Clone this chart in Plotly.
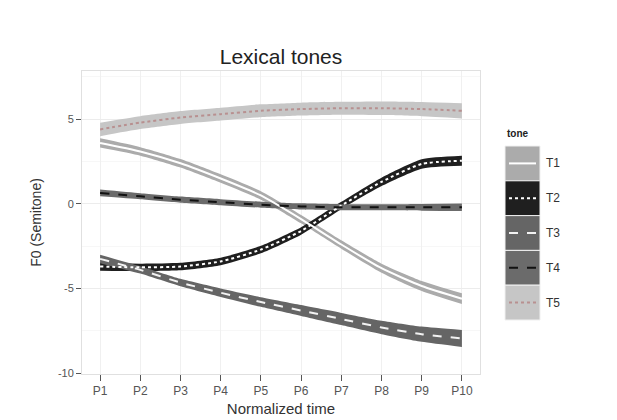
import plotly.graph_objects as go

points = ["P1", "P2", "P3", "P4", "P5", "P6", "P7", "P8", "P9", "P10"]
tones = ["T1", "T2", "T3", "T4", "T5"]

t1 = [3.6, 3.1, 2.4, 1.5, 0.5, -0.9, -2.4, -3.8, -4.85, -5.6]
t2 = [-3.7, -3.75, -3.7, -3.4, -2.7, -1.6, -0.1, 1.3, 2.36, 2.55]
t3 = [-3.25, -3.9, -4.65, -5.25, -5.8, -6.3, -6.8, -7.3, -7.7, -7.95]
t4 = [0.65, 0.45, 0.25, 0.1, -0.05, -0.15, -0.2, -0.2, -0.2, -0.2]
t5 = [4.4, 4.8, 5.1, 5.3, 5.5, 5.6, 5.65, 5.65, 5.6, 5.5]

se1 = [0.27, 0.25, 0.25, 0.25, 0.25, 0.25, 0.25, 0.27, 0.3, 0.32]
se2 = [0.25, 0.22, 0.22, 0.22, 0.22, 0.22, 0.22, 0.25, 0.28, 0.3]
se3 = [0.25, 0.22, 0.22, 0.25, 0.28, 0.32, 0.36, 0.4, 0.45, 0.5]
se4 = [0.2, 0.18, 0.18, 0.18, 0.18, 0.18, 0.18, 0.18, 0.2, 0.22]
se5 = [0.4, 0.38, 0.38, 0.38, 0.38, 0.38, 0.38, 0.4, 0.42, 0.45]

means = [t1, t2, t3, t4, t5]
ses = [se1, se2, se3, se4, se5]
band_colors = ["#ababab", "#1f1f1f", "#656565", "#6b6b6b", "#c6c6c6"]
line_colors = ["#ffffff", "#ffffff", "#f2f2f2", "#111111", "#b89090"]
line_dash = ["solid", "dot", "dash", "dash", "dot"]
SMOOTH = 0.6

fig = go.Figure()
for name, m, s, bc, lc, ld in zip(tones, means, ses, band_colors, line_colors, line_dash):
    lo = [a - b for a, b in zip(m, s)]
    hi = [a + b for a, b in zip(m, s)]
    fig.add_trace(go.Scatter(x=points, y=lo, mode="lines",
                             line=dict(width=0, shape="spline", smoothing=SMOOTH, color=bc),
                             showlegend=False, hoverinfo="skip"))
    fig.add_trace(go.Scatter(x=points, y=hi, mode="lines",
                             line=dict(width=0, shape="spline", smoothing=SMOOTH, color=bc),
                             fill="tonexty", fillcolor=bc, showlegend=False, hoverinfo="skip"))
for name, m, s, bc, lc, ld in zip(tones, means, ses, band_colors, line_colors, line_dash):
    fig.add_trace(go.Scatter(x=points, y=m, mode="lines", name=name,
                             line=dict(width=2, shape="spline", smoothing=SMOOTH, color=lc, dash=ld),
                             showlegend=False))

# legend drawn in ggplot style
shapes = []
annotations = []
x0, x1 = 505, 540
ytop = 146
h = 34.8
W, H = 617, 420
for i, (name, bc, lc, ld) in enumerate(zip(tones, band_colors, line_colors, line_dash)):
    y0 = ytop + i * h
    y1 = y0 + h
    shapes.append(dict(type="rect", xref="paper", yref="paper",
                       x0=(x0 - 82) / 398, x1=(x1 - 82) / 398,
                       y0=1 - (y1 - 71) / 303, y1=1 - (y0 - 71) / 303,
                       fillcolor=bc, line=dict(width=1, color="#f0f0f0"), layer="above"))
    ym = 1 - ((y0 + y1) / 2 - 71) / 303
    shapes.append(dict(type="line", xref="paper", yref="paper",
                       x0=(x0 + 4 - 82) / 398, x1=(x1 - 4 - 82) / 398, y0=ym, y1=ym,
                       line=dict(width=2, color=lc, dash=ld), layer="above"))
    annotations.append(dict(text=name, xref="paper", yref="paper", x=(544 - 82) / 398, y=ym,
                            xanchor="left", yanchor="middle", showarrow=False,
                            font=dict(size=12, color="#333")))
annotations.append(dict(text="<b>tone</b>", xref="paper", yref="paper", x=(505 - 82) / 398,
                        y=1 - (133 - 71) / 303, xanchor="left", yanchor="middle", showarrow=False,
                        font=dict(size=10, color="#222")))

fig.update_layout(
    width=W, height=H,
    margin=dict(l=82, r=137, t=71, b=46, autoexpand=False),
    paper_bgcolor="white", plot_bgcolor="white",
    font=dict(family="Liberation Sans, Arial, sans-serif", color="#333"),
    title=dict(text="Lexical tones", x=(82 + 199) / 617, xanchor="center", y=1 - 57 / 420, yanchor="middle",
               font=dict(size=21, color="#222")),
    shapes=shapes, annotations=annotations,
    showlegend=False,
)
fig.update_xaxes(type="category", range=[-0.45, 9.45], showgrid=True, gridcolor="#f0f0f0",
                 ticks="outside", ticklen=6, tickcolor="#555", tickfont=dict(size=12, color="#555"),
                 showline=True, linecolor="#e0e0e0", mirror=True, zeroline=False, automargin=False,
                 title=dict(text="Normalized time", font=dict(size=15, color="#333"), standoff=6))
fig.update_yaxes(range=[-10.05, 7.85], tickvals=[-10, -5, 0, 5], ticktext=["-10", "-5", "0", "5"],
                 showgrid=True, gridcolor="#ececec",
                 minor=dict(tickvals=[-7.5, -2.5, 2.5, 7.5], showgrid=True, gridcolor="#f7f7f7"),
                 ticks="outside", ticklen=5, tickcolor="#555", tickfont=dict(size=11, color="#555"),
                 showline=True, linecolor="#e0e0e0", mirror=True, zeroline=False, automargin=False,
                 title=dict(text="F0 (Semitone)", font=dict(size=14, color="#333"), standoff=12))

fig.write_html("out.html")
